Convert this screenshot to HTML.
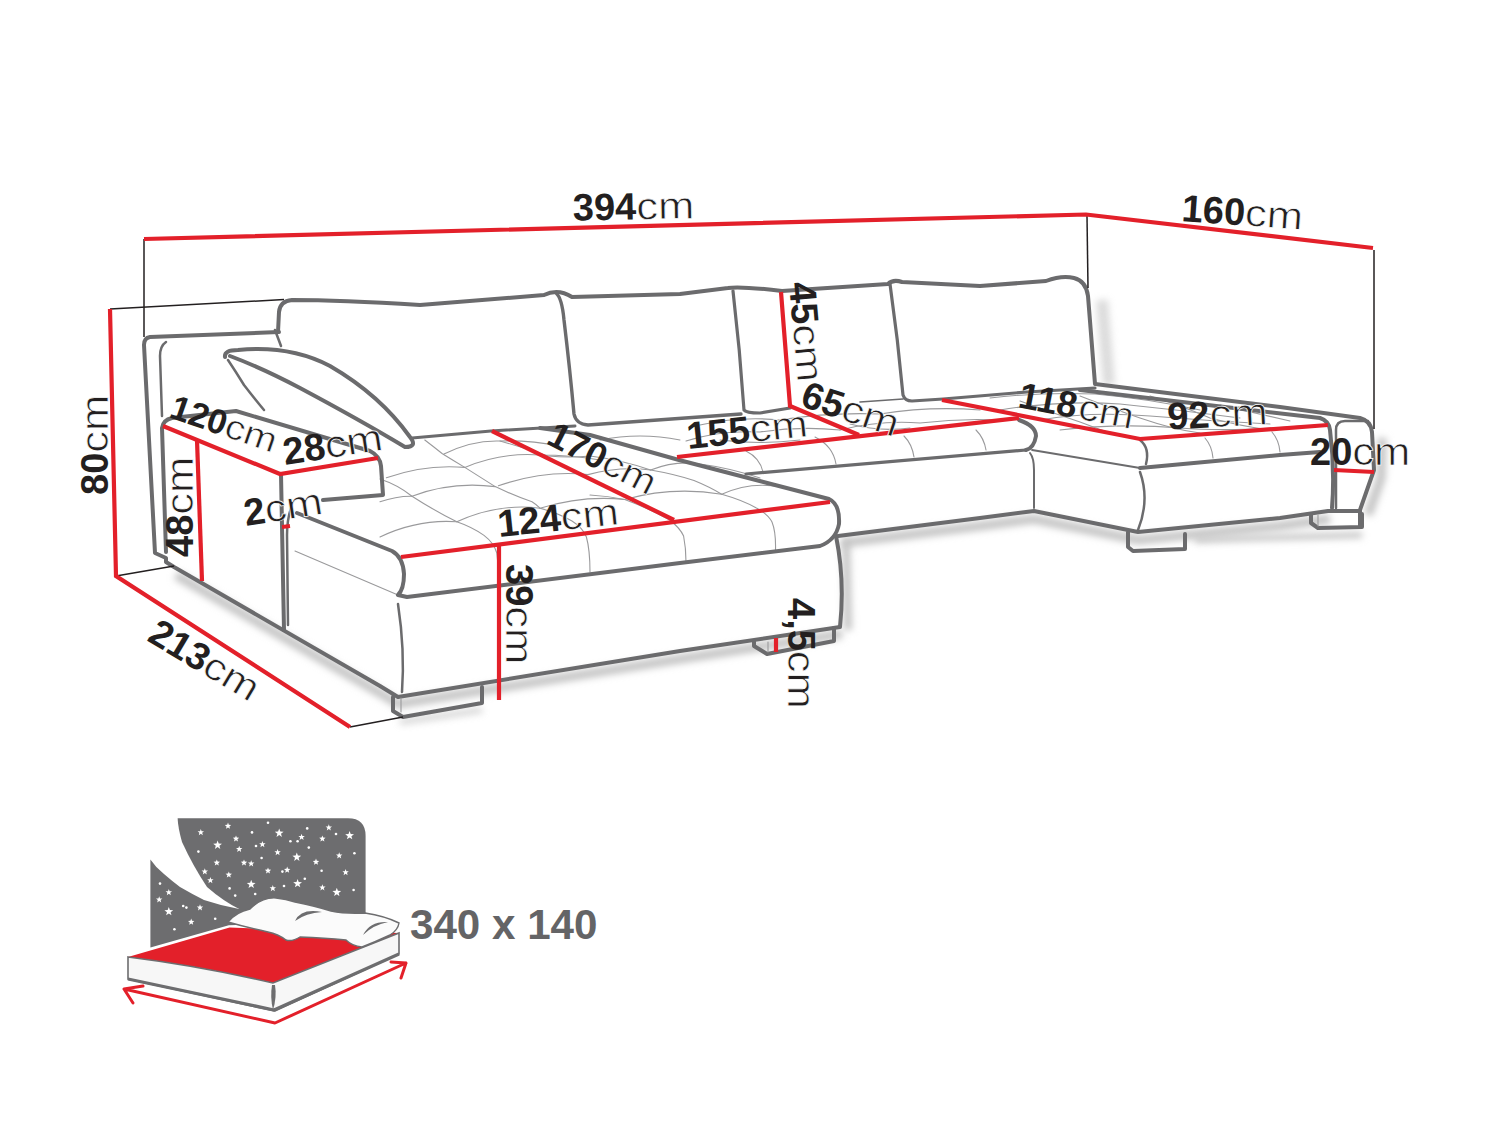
<!DOCTYPE html>
<html><head><meta charset="utf-8">
<style>
html,body{margin:0;padding:0;background:#fff;width:1500px;height:1125px;overflow:hidden}
svg{display:block}
.g{fill:none;stroke:#6b6b6d;stroke-width:4;stroke-linejoin:round;stroke-linecap:round}
.gt{fill:none;stroke:#6b6b6d;stroke-width:2.5;stroke-linejoin:round;stroke-linecap:round}
.r{fill:none;stroke:#e3202a;stroke-width:4.2;stroke-linecap:butt}
.k{fill:none;stroke:#231f20;stroke-width:1.5}
.t{fill:none;stroke:#9a9a9c;stroke-width:1.1;stroke-linecap:round}
.sh{fill:none;stroke:#c4c4c4;stroke-width:9;filter:url(#blur)}
text{font-family:"Liberation Sans",sans-serif;fill:#231f20;font-size:38px}
.b{font-weight:bold}
.cm{stroke:#fff;stroke-width:0.7;paint-order:normal}
</style></head>
<body>
<svg width="1500" height="1125" viewBox="0 0 1500 1125">
<defs><filter id="blur" filterUnits="userSpaceOnUse" x="0" y="0" width="1500" height="1125"><feGaussianBlur stdDeviation="3.5"/></filter></defs>

<g>
<path class="sh" d="M176,575 L380,693 L398,704 L680,659 L842,634"/>
<path class="sh" d="M846,540 L848,630" style="stroke-width:8"/>
<path class="sh" d="M842,543 L980,526 L1034,519 L1138,540 L1280,526 L1330,519"/>
<path class="sh" d="M1102,300 L1109,385" style="stroke-width:12;opacity:0.6"/>
<path class="sh" d="M1382,438 L1381,478 L1368,515" style="stroke-width:9"/>
<path class="sh" d="M1195,540 L1362,535" style="stroke-width:6"/>
<path class="sh" d="M400,722 L482,710" style="stroke-width:6;opacity:0.7"/>
</g>


<g class="t">
<!-- left chaise seams -->
<path d="M424.8,440 Q434,447 442.4,453.8 Q454,461 464.8,467.4 Q480,477 495.2,486.6 Q515,496 532,501.8 Q537,505 540,508.2 Q558,513 572,521 Q583,528 586.4,537 Q590,550 590,572"/>
<path d="M380,479 Q398,485 412,496.2 Q435,511 456.8,521.8 Q472,527 484,535.4 Q494,543 496.8,553 Q499,570 498,585"/>
<path d="M590,456 Q622,460 650.6,470 Q674,474 694,480.5 Q710,487 721.7,494.3 Q742,500 756.4,508 Q768,514 772,522 Q776,532 775.5,550"/>
<path d="M590,495 Q608,496 624.7,499.5 Q648,508 669.7,520 Q680,528 683.6,536 Q686,548 686,562"/>
<path d="M500,441 Q525,448 548,456 Q570,458 590,456"/>
<!-- left chaise arcs -->
<path d="M444,454 Q472,440 500,441 Q530,440 560,446"/>
<path d="M386.4,477.8 Q425,464 464.8,467.4"/>
<path d="M464.8,467.4 Q502,452 540,455 Q570,455 600,460"/>
<path d="M380,501.8 Q396,496 412,496.2"/>
<path d="M412,496.2 Q452,481 495.2,486.6"/>
<path d="M498.4,485.8 Q544,470 588,474.6 Q620,466 650.6,470"/>
<path d="M650.6,470 Q676,460 700,464 Q730,468 760,478"/>
<path d="M380,537 Q418,519 456.8,521.8"/>
<path d="M456.8,521.8 Q498,503 540,508.2"/>
<path d="M540,508.2 Q583,495 624.7,499.5"/>
<path d="M624.7,499.5 Q673,486 721.7,494.3"/>
<path d="M721.7,494.3 Q746,483 772,485.7 Q795,488 815,496"/>
<path d="M600,440 Q640,432 680,440"/>
<!-- middle seat -->
<path d="M746,451 Q760,458 763,472"/>
<path d="M815,437 Q833,446 836,464"/>
<path d="M904,436 Q912,444 914,457"/>
<path d="M976,430 Q984,438 986,450"/>
<path d="M686,441 Q720,430 760,432 Q800,426 840,430"/>
<path d="M840,430 Q880,420 920,423 Q960,418 1000,420"/>
<path d="M700,425 Q740,416 780,420 Q830,412 880,414"/>
<path d="M880,414 Q930,406 980,410"/>
<path d="M720,440 Q760,445 800,440"/>
<path d="M850,424 Q880,432 910,428"/>
<!-- right chaise -->
<path d="M990,398 Q1040,392 1095,394 Q1150,399 1200,410"/>
<path d="M1000,410 Q1060,400 1120,404 Q1180,410 1240,418"/>
<path d="M1040,420 Q1090,411 1150,416 Q1210,421 1270,424"/>
<path d="M1060,430 Q1120,423 1180,428 Q1230,432 1300,426"/>
<path d="M1080,396 Q1110,408 1140,418 Q1175,430 1200,433"/>
<path d="M1150,396 Q1180,405 1210,418 Q1240,426 1270,430"/>
<path d="M1220,405 Q1250,412 1290,421"/>
<path d="M1020,401 Q1050,412 1080,422 Q1100,430 1120,436"/>
<path d="M1205,438 Q1212,446 1213,458"/>
<path d="M1272,432 Q1279,440 1280,452"/>
</g>


<!-- backrest top and right side -->
<path class="g" d="M278,332 L279,312 Q280,301 292,300 Q340,300 420,305 L544,295 Q558,288 572,297 L680,294 L728,288 Q740,286 782,291 L888,284 Q893,279 902,282 L980,286 L1046,281 Q1062,275 1074,278 Q1086,281 1088,296 L1095,384 L1280,407 L1360,418 Q1371,421 1372,432 L1374,470 L1360,510 L1360,527"/>
<!-- left arm outer & bottom -->
<path class="g" d="M279,332 L150,337 Q144,338 144,345 L155,553 L166,558 L166,562 L174,567 L380,686 L398,697 L680,651 L840,627 Q845,580 836,536"/>
<!-- feet -->
<path class="g" d="M393,697 L393,711 L403,717 L482,703 L482,687"/>
<path class="t" d="M401,698 L401,712"/>
<path class="g" d="M754,641 L754,646 L767,654 L834,641 L834,628"/>
<path class="t" d="M768,642 L768,652"/>
<!-- inner arm line -->
<path class="gt" d="M166,342 Q160,346 160,356 L162,416"/>
<!-- arm front block -->
<path class="g" d="M166,552 L162,428 Q163,420 172,418 L236,411 L370,451 Q380,456 381,466 L383,495 L323,500"/>
<path class="g" d="M281,474 L284,630"/>
<path class="gt" d="M291,508 Q287,520 287,535 L288,625"/>
<path class="t" d="M295,551 L398,595"/>
<!-- pillow -->
<path class="g" d="M225,357 Q224,350 238,350 Q290,345 330,366 Q380,395 410,437 Q418,447 405,447 Q360,420 300,388 Q262,368 230,356"/>
<path class="gt" d="M228,360 Q236,372 244,385 Q254,398 264,410"/>
<path class="gt" d="M275,330 L281,346"/>
<!-- left chaise seat -->
<path class="g" d="M297,513 L392,551 Q403,557 404,574 Q404,589 398,595 L407,597 L680,563 L820,546 Q836,540 839,524 Q840,504 829,499 L679,460 L590,435 L540,428"/>
<path class="gt" d="M398,604 Q405,650 402,692"/>
<path class="gt" d="M412,438 L491,431 L575,426" style="stroke-width:3"/>
<!-- backrest cushion dividers -->
<path class="gt" d="M556,293 Q562,298 564,320 Q570,370 574,414 Q576,424 588,425 L741,414" style="stroke-width:3.4"/>
<path class="gt" d="M733,291 Q740,350 744,410 Q746,413 760,413 L790,408" style="stroke-width:3.2"/>
<path class="gt" d="M890,284 Q898,340 903,395 Q905,401 912,401 L943,399 L1027,392 L1095,388" style="stroke-width:3.2"/>
<!-- middle seat -->
<path class="g" d="M746,474 L1026,450" style="stroke-width:3.2"/>
<path class="g" d="M838,536 L980,518 L1034,511 L1138,532 L1280,518 L1328,511 L1360,511"/>
<path class="g" d="M1019,420 Q1036,426 1036,436 Q1034,448 1026,450"/>
<path class="t" d="M860,402 L903,399" style="stroke:#6b6b6d;stroke-width:1.6"/>
<!-- right chaise -->
<path class="gt" d="M1032,450 L1140,468" style="stroke-width:1.8"/>
<path class="g" d="M1140,468 L1280,455 L1320,452"/>
<path class="gt" d="M1030,453 Q1034,458 1034,470 L1034,508" style="stroke-width:2"/>
<path class="gt" d="M1140,440 Q1150,448 1146,464"/>
<path class="gt" d="M1140,472 Q1150,500 1138,530"/>
<path class="g" d="M1128,532 L1128,547 L1133,551 L1185,549 L1185,534"/>
<path class="g" d="M1080,390 L1320,418 Q1329,421 1330,430 Q1335,470 1332,508"/>
<path class="gt" d="M1336,508 L1336,430 Q1336,421 1345,421 L1368,421"/>
<path class="g" d="M1311,514 L1311,523 L1318,528 L1362,527 L1362,514"/>
<path class="t" d="M1318,515 L1318,526"/>


<path class="k" d="M144,239 L144,337"/>
<path class="k" d="M110,309 L284,299.6"/>
<path class="k" d="M116,576 L174,566"/>
<path class="k" d="M350,727 L403,717"/>
<path class="k" d="M1087,216 L1088,288"/>
<path class="k" d="M1374,250 L1374,429"/>
<path class="r" d="M144,239 L1086,214.5 L1373,248"/>
<path class="r" d="M110,309 L116,576 L350,727"/>
<path class="r" d="M163,426 L280,474 L378,458"/>
<path class="r" d="M197,440 L202,581"/>
<path class="r" d="M282,527 L290,526"/>
<path class="r" d="M492,431 L674,520"/>
<path class="r" d="M401,557 L830,502"/>
<path class="r" d="M499,544 L499,700"/>
<path class="r" d="M677,457 L1019,418"/>
<path class="r" d="M781,292 L790,406 L859,435"/>
<path class="r" d="M942,400 L1140,439 L1328,425"/>
<path class="r" d="M1334,470 L1374,472"/>
<path class="r" d="M776,638 L776,652"/>

<g transform="translate(573,220.5) rotate(-1)"><text class="b">394</text><text class="cm" transform="translate(63.4,0) scale(1.146,1)">cm</text></g>
<g transform="translate(1181,221) rotate(4)"><text class="b">160</text><text class="cm" transform="translate(63.4,0) scale(1.146,1)">cm</text></g>
<g transform="translate(108,495) rotate(-90)"><text class="b">80</text><text class="cm" transform="translate(42.3,0) scale(1.146,1)">cm</text></g>
<g transform="translate(168,417) rotate(19) scale(0.91)"><text class="b">120</text><text class="cm" transform="translate(63.4,0) scale(1.146,1)">cm</text></g>
<g transform="translate(285,465) rotate(-8.7)"><text class="b">28</text><text class="cm" transform="translate(42.3,0) scale(1.146,1)">cm</text></g>
<g transform="translate(193,557) rotate(-90)"><text class="b">48</text><text class="cm" transform="translate(42.3,0) scale(1.146,1)">cm</text></g>
<g transform="translate(246,526) rotate(-9)"><text class="b">2</text><text class="cm" transform="translate(21.1,0) scale(1.146,1)">cm</text></g>
<g transform="translate(146,640) rotate(31)"><text class="b">213</text><text class="cm" transform="translate(63.4,0) scale(1.146,1)">cm</text></g>
<g transform="translate(545,443) rotate(27) scale(0.96)"><text class="b">170</text><text class="cm" transform="translate(63.4,0) scale(1.146,1)">cm</text></g>
<g transform="translate(499,537) rotate(-6)"><text class="b">124</text><text class="cm" transform="translate(63.4,0) scale(1.146,1)">cm</text></g>
<g transform="translate(506,564) rotate(90)"><text class="b">39</text><text class="cm" transform="translate(42.3,0) scale(1.146,1)">cm</text></g>
<g transform="translate(688,449) rotate(-6)"><text class="b">155</text><text class="cm" transform="translate(63.4,0) scale(1.146,1)">cm</text></g>
<g transform="translate(789,283) rotate(85)"><text class="b">45</text><text class="cm" transform="translate(42.3,0) scale(1.146,1)">cm</text></g>
<g transform="translate(799,405.5) rotate(18.5)"><text class="b">65</text><text class="cm" transform="translate(42.3,0) scale(1.146,1)">cm</text></g>
<g transform="translate(1017,407) rotate(11) scale(0.96)"><text class="b">118</text><text class="cm" transform="translate(63.4,0) scale(1.146,1)">cm</text></g>
<g transform="translate(1168,429.5) rotate(-3)"><text class="b">92</text><text class="cm" transform="translate(42.3,0) scale(1.146,1)">cm</text></g>
<g transform="translate(1310,464.5) rotate(0)"><text class="b">20</text><text class="cm" transform="translate(42.3,0) scale(1.146,1)">cm</text></g>
<g transform="translate(788,598) rotate(90)"><text class="b">4,5</text><text class="cm" transform="translate(52.8,0) scale(1.146,1)">cm</text></g>

<path fill="#6d6d6f" d="M177.6,818.3 L348,818.3 Q365.6,818.3 365.6,836 L365.6,909 L239.2,909 Q223,901 207,887 Q193,866 182,842 Q178,828 177.6,818.3 Z"/>
<path fill="#6d6d6f" d="M150.4,859.6 Q156,868 164,874 Q172,881 180,887 Q192,894 204,900 Q222,906 239.2,909 L365.6,909 L365.6,920 L228.8,925.2 L150.4,947.6 Z"/>
<path fill="#fff" d="M200.8,829.0 L201.6,831.2 L204.0,831.3 L202.2,832.8 L202.8,835.2 L200.8,833.8 L198.8,835.2 L199.4,832.8 L197.6,831.3 L200.0,831.2Z M228.0,822.6 L228.8,824.8 L231.2,824.9 L229.4,826.4 L230.0,828.8 L228.0,827.4 L226.0,828.8 L226.6,826.4 L224.8,824.9 L227.2,824.8Z M217.6,840.6 L218.7,843.6 L222.0,843.8 L219.4,845.8 L220.3,848.9 L217.6,847.1 L214.9,848.9 L215.8,845.8 L213.2,843.8 L216.5,843.6Z M236.0,835.4 L236.8,837.6 L239.2,837.7 L237.4,839.2 L238.0,841.6 L236.0,840.2 L234.0,841.6 L234.6,839.2 L232.8,837.7 L235.2,837.6Z M239.2,845.8 L240.0,848.0 L242.4,848.1 L240.6,849.6 L241.2,852.0 L239.2,850.6 L237.2,852.0 L237.8,849.6 L236.0,848.1 L238.4,848.0Z M262.4,841.0 L263.2,843.2 L265.6,843.3 L263.8,844.8 L264.4,847.2 L262.4,845.8 L260.4,847.2 L261.0,844.8 L259.2,843.3 L261.6,843.2Z M279.2,828.6 L280.3,831.6 L283.6,831.8 L281.0,833.8 L281.9,836.9 L279.2,835.1 L276.5,836.9 L277.4,833.8 L274.8,831.8 L278.1,831.6Z M301.6,833.8 L302.4,836.0 L304.8,836.1 L303.0,837.6 L303.6,840.0 L301.6,838.6 L299.6,840.0 L300.2,837.6 L298.4,836.1 L300.8,836.0Z M322.4,835.4 L323.2,837.6 L325.6,837.7 L323.8,839.2 L324.4,841.6 L322.4,840.2 L320.4,841.6 L321.0,839.2 L319.2,837.7 L321.6,837.6Z M328.8,824.2 L329.6,826.4 L332.0,826.5 L330.2,828.0 L330.8,830.4 L328.8,829.0 L326.8,830.4 L327.4,828.0 L325.6,826.5 L328.0,826.4Z M349.6,831.0 L350.7,834.0 L354.0,834.2 L351.4,836.2 L352.3,839.3 L349.6,837.5 L346.9,839.3 L347.8,836.2 L345.2,834.2 L348.5,834.0Z M277.6,849.0 L278.4,851.2 L280.8,851.3 L279.0,852.8 L279.6,855.2 L277.6,853.8 L275.6,855.2 L276.2,852.8 L274.4,851.3 L276.8,851.2Z M296.8,852.6 L297.9,855.6 L301.2,855.8 L298.6,857.8 L299.5,860.9 L296.8,859.1 L294.1,860.9 L295.0,857.8 L292.4,855.8 L295.7,855.6Z M339.2,852.2 L340.0,854.4 L342.4,854.5 L340.6,856.0 L341.2,858.4 L339.2,857.0 L337.2,858.4 L337.8,856.0 L336.0,854.5 L338.4,854.4Z M316.0,858.6 L316.8,860.8 L319.2,860.9 L317.4,862.4 L318.0,864.8 L316.0,863.4 L314.0,864.8 L314.6,862.4 L312.8,860.9 L315.2,860.8Z M216.8,859.4 L217.6,861.6 L220.0,861.7 L218.2,863.2 L218.8,865.6 L216.8,864.2 L214.8,865.6 L215.4,863.2 L213.6,861.7 L216.0,861.6Z M244.0,859.4 L244.8,861.6 L247.2,861.7 L245.4,863.2 L246.0,865.6 L244.0,864.2 L242.0,865.6 L242.6,863.2 L240.8,861.7 L243.2,861.6Z M251.2,860.2 L252.0,862.4 L254.4,862.5 L252.6,864.0 L253.2,866.4 L251.2,865.0 L249.2,866.4 L249.8,864.0 L248.0,862.5 L250.4,862.4Z M204.8,868.2 L205.6,870.4 L208.0,870.5 L206.2,872.0 L206.8,874.4 L204.8,873.0 L202.8,874.4 L203.4,872.0 L201.6,870.5 L204.0,870.4Z M228.8,871.4 L229.6,873.6 L232.0,873.7 L230.2,875.2 L230.8,877.6 L228.8,876.2 L226.8,877.6 L227.4,875.2 L225.6,873.7 L228.0,873.6Z M268.0,867.4 L268.8,869.6 L271.2,869.7 L269.4,871.2 L270.0,873.6 L268.0,872.2 L266.0,873.6 L266.6,871.2 L264.8,869.7 L267.2,869.6Z M287.2,866.6 L288.0,868.8 L290.4,868.9 L288.6,870.4 L289.2,872.8 L287.2,871.4 L285.2,872.8 L285.8,870.4 L284.0,868.9 L286.4,868.8Z M345.6,869.0 L346.4,871.2 L348.8,871.3 L347.0,872.8 L347.6,875.2 L345.6,873.8 L343.6,875.2 L344.2,872.8 L342.4,871.3 L344.8,871.2Z M210.4,877.0 L211.2,879.2 L213.6,879.3 L211.8,880.8 L212.4,883.2 L210.4,881.8 L208.4,883.2 L209.0,880.8 L207.2,879.3 L209.6,879.2Z M251.2,879.8 L252.3,882.8 L255.6,883.0 L253.0,885.0 L253.9,888.1 L251.2,886.3 L248.5,888.1 L249.4,885.0 L246.8,883.0 L250.1,882.8Z M297.6,879.0 L298.7,882.0 L302.0,882.2 L299.4,884.2 L300.3,887.3 L297.6,885.5 L294.9,887.3 L295.8,884.2 L293.2,882.2 L296.5,882.0Z M272.8,885.0 L273.6,887.2 L276.0,887.3 L274.2,888.8 L274.8,891.2 L272.8,889.8 L270.8,891.2 L271.4,888.8 L269.6,887.3 L272.0,887.2Z M322.4,884.2 L323.2,886.4 L325.6,886.5 L323.8,888.0 L324.4,890.4 L322.4,889.0 L320.4,890.4 L321.0,888.0 L319.2,886.5 L321.6,886.4Z M336.8,887.8 L337.9,890.8 L341.2,891.0 L338.6,893.0 L339.5,896.1 L336.8,894.3 L334.1,896.1 L335.0,893.0 L332.4,891.0 L335.7,890.8Z M168.8,889.0 L169.6,891.2 L172.0,891.3 L170.2,892.8 L170.8,895.2 L168.8,893.8 L166.8,895.2 L167.4,892.8 L165.6,891.3 L168.0,891.2Z M159.2,896.2 L160.0,898.4 L162.4,898.5 L160.6,900.0 L161.2,902.4 L159.2,901.0 L157.2,902.4 L157.8,900.0 L156.0,898.5 L158.4,898.4Z M168.8,907.0 L169.9,910.0 L173.2,910.2 L170.6,912.2 L171.5,915.3 L168.8,913.5 L166.1,915.3 L167.0,912.2 L164.4,910.2 L167.7,910.0Z M200.0,904.2 L200.8,906.4 L203.2,906.5 L201.4,908.0 L202.0,910.4 L200.0,909.0 L198.0,910.4 L198.6,908.0 L196.8,906.5 L199.2,906.4Z M191.2,918.6 L192.0,920.8 L194.4,920.9 L192.6,922.4 L193.2,924.8 L191.2,923.4 L189.2,924.8 L189.8,922.4 L188.0,920.9 L190.4,920.8Z"/>
<circle cx="268.0" cy="822.8" r="1.3" fill="#fff"/><circle cx="252.0" cy="832.4" r="1.3" fill="#fff"/><circle cx="307.2" cy="828.4" r="1.3" fill="#fff"/><circle cx="336.0" cy="834.0" r="1.3" fill="#fff"/><circle cx="290.4" cy="841.2" r="1.3" fill="#fff"/><circle cx="297.6" cy="841.2" r="1.3" fill="#fff"/><circle cx="308.8" cy="847.6" r="1.3" fill="#fff"/><circle cx="256.0" cy="846.0" r="1.3" fill="#fff"/><circle cx="198.4" cy="851.6" r="1.3" fill="#fff"/><circle cx="261.6" cy="858.0" r="1.3" fill="#fff"/><circle cx="354.4" cy="853.2" r="1.3" fill="#fff"/><circle cx="282.4" cy="871.6" r="1.3" fill="#fff"/><circle cx="321.6" cy="870.8" r="1.3" fill="#fff"/><circle cx="304.8" cy="878.8" r="1.3" fill="#fff"/><circle cx="229.6" cy="888.4" r="1.3" fill="#fff"/><circle cx="235.2" cy="895.6" r="1.3" fill="#fff"/><circle cx="255.2" cy="894.0" r="1.3" fill="#fff"/><circle cx="284.0" cy="886.0" r="1.3" fill="#fff"/><circle cx="353.6" cy="890.0" r="1.3" fill="#fff"/><circle cx="160.0" cy="883.6" r="1.3" fill="#fff"/><circle cx="183.2" cy="906.0" r="1.3" fill="#fff"/><circle cx="186.4" cy="907.6" r="1.3" fill="#fff"/><circle cx="215.2" cy="918.8" r="1.3" fill="#fff"/><circle cx="174.4" cy="929.2" r="1.3" fill="#fff"/>
<path fill="#e3202a" d="M128,957 L229.6,927.6 L399,933 L273,983 Q200,966 128,957 Z"/>
<path fill="#f7f7f7" stroke="#6d6d6f" stroke-width="1.6" d="M128,957 Q200,966 273,983 L399,933 L399,954 L275,1011 L128,979 Z"/>
<path fill="none" stroke="#6d6d6f" stroke-width="3.2" d="M128,979 L274,1010 L399,954"/>
<path fill="#6d6d6f" d="M272,985 Q270,997 273,1010 Q277,997 275,985 Z"/>
<path fill="#fbfbfb" stroke="#6d6d6f" stroke-width="1.4" d="M228,922 Q236,912 250,909 Q262,897 276,898 Q286,899 295,902 Q315,906 331,911 Q345,914 365,913 Q385,916 399,923 Q398,930 390,935 Q375,942 362,947 Q352,946 346,940 Q325,938 300,937 Q292,942 286,940 Q278,934 268,932 Q245,927 228,922 Z"/>
<path fill="#6d6d6f" d="M295,921 Q301,908 322,912 Q306,913 295,921 Z M363,935 Q370,921 388,922 Q373,925 363,935 Z"/>
<path fill="none" stroke="#e3202a" stroke-width="3" stroke-linejoin="round" stroke-linecap="round" d="M124,989 L275,1023 L406,963 M143,986 L124,989 L133,1003 M391,962 L406,963 L401,978"/>

<text transform="translate(410,939) scale(0.98,1)" style="font-size:43px;font-weight:bold;fill:#646466">340 x 140</text>
</svg>
</body></html>
